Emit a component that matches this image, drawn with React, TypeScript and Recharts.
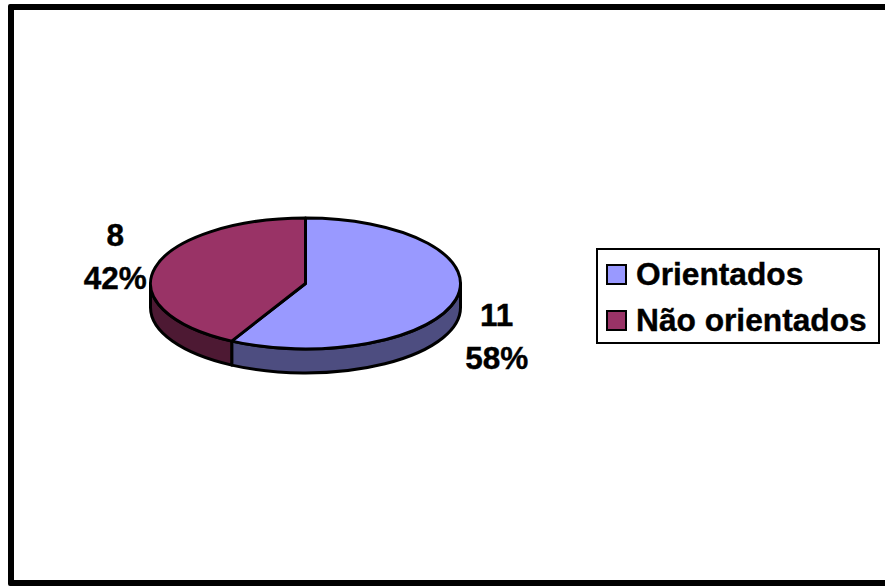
import React from "react";
import { PieChart, Pie, Cell, Legend } from "recharts";

const categories = ["Orientados", "Não orientados"];
const counts = [11, 8];
const topColors = ["#9999FF", "#993366"];
const sideColors = ["#4D4D80", "#4D1933"];

const rows = categories.map((name, i) => ({ name, value: counts[i], side: sideColors[i] }));

const FONT = "'Liberation Sans', Arial, sans-serif";
const SQUASH = 65.5 / 155; // vertical flattening of the disc
const DEPTH = 24;
const labelNudge = [
  { dx: 41, dy: 37 },
  { dx: -40, dy: -10 },
];

const rad = (deg: number) => (deg * Math.PI) / 180;

// Draws one slice as a flattened disc wedge plus its visible rim
const DiscSlice = (props: any) => {
  const { cx, cy, outerRadius: rx, startAngle, endAngle, fill } = props;
  const ry = rx * SQUASH;
  const px = (a: number) => cx + rx * Math.cos(rad(a));
  const py = (a: number) => cy - ry * Math.sin(rad(a));
  const large = Math.abs(startAngle - endAngle) > 180 ? 1 : 0;
  const top = `M${cx},${cy} L${px(startAngle)},${py(startAngle)} A${rx},${ry} 0 ${large} 1 ${px(endAngle)},${py(endAngle)} Z`;

  // only the front half of the disc shows a rim (angles 0 to -180)
  const a = Math.min(startAngle, 0);
  const b = Math.max(endAngle, -180);
  const rim =
    a > b
      ? `M${px(a)},${py(a)} A${rx},${ry} 0 0 1 ${px(b)},${py(b)} L${px(b)},${py(b) + DEPTH} A${rx},${ry} 0 0 0 ${px(a)},${py(a) + DEPTH} Z`
      : null;
  const side = props.side ?? props.payload?.side;

  return (
    <g>
      {rim && <path d={rim} fill={side} stroke="#000" strokeWidth={3} strokeLinejoin="round" />}
      <path d={top} fill={fill} stroke="#000" strokeWidth={3} strokeLinejoin="round" />
    </g>
  );
};

const sliceLabel = (props: any) => {
  const { cx, cy, outerRadius: rx, midAngle, value, percent, index } = props;
  const x = cx + rx * Math.cos(rad(midAngle)) + labelNudge[index].dx;
  const y = cy - rx * SQUASH * Math.sin(rad(midAngle)) + labelNudge[index].dy;
  return (
    <text
      x={x}
      y={y}
      textAnchor="middle"
      fontFamily={FONT}
      fontWeight={700}
      fontSize={31.5}
      fill="#000"
      stroke="#000"
      strokeWidth={0.4}
    >
      <tspan x={x} dy={-11}>{value}</tspan>
      <tspan x={x} dy={43}>{`${Math.round(percent * 100)}%`}</tspan>
    </text>
  );
};

const KeyBox = () => (
  <div style={{ width: 284, height: 96, boxSizing: "border-box", border: "2px solid #000", background: "#fff", position: "relative" }}>
    {categories.map((name, i) => (
      <div key={name} style={{ position: "absolute", left: 8, top: 13 + i * 46, height: 22, display: "flex", alignItems: "center", whiteSpace: "nowrap" }}>
        <span style={{ width: 21, height: 21, boxSizing: "border-box", border: "2.5px solid #000", background: topColors[i], marginRight: 9 }} />
        <span style={{ fontFamily: FONT, fontWeight: 700, fontSize: 31.7, color: "#000", lineHeight: "22px", WebkitTextStroke: "0.4px #000" }}>{name}</span>
      </div>
    ))}
  </div>
);

export default function App() {
  return (
    <div style={{ position: "absolute", left: 0, top: 0, width: 885, height: 586, overflow: "hidden", background: "#fff" }}>
      <div style={{ position: "absolute", left: 8, top: 4, width: 900, height: 570, border: "6px solid #000", borderRadius: 2 }} />
      <PieChart width={885} height={586} margin={{ top: 0, right: 0, bottom: 0, left: 0 }}>
        <Pie
          data={rows}
          dataKey="value"
          nameKey="name"
          cx={305.5}
          cy={283.5}
          outerRadius={155}
          startAngle={90}
          endAngle={-270}
          paddingAngle={0}
          shape={DiscSlice}
          label={sliceLabel}
          labelLine={false}
          isAnimationActive={false}
        >
          {rows.map((r, i) => (
            <Cell key={r.name} fill={topColors[i]} />
          ))}
        </Pie>
        <Legend content={<KeyBox />} wrapperStyle={{ left: 596, top: 248, width: 284, height: 96 }} />
      </PieChart>
    </div>
  );
}
